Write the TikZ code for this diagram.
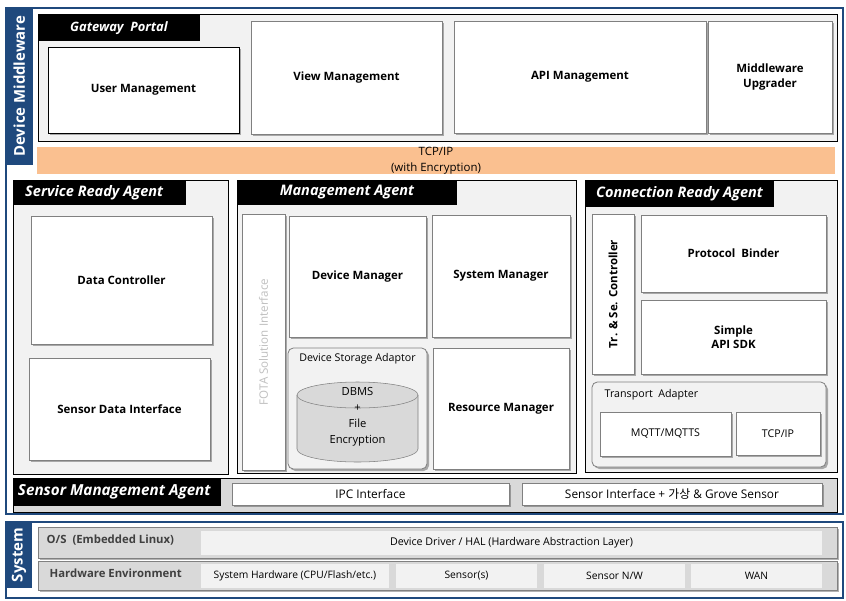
\documentclass[tikz,border=0pt]{standalone}
\usepackage{fontspec}
\setmainfont{Open Sans}
\newfontfamily\krfont{Noto Sans CJK KR}
\usetikzlibrary{shadows}
\definecolor{FrameBlue}{HTML}{1F497D}
\definecolor{PanelGray}{HTML}{F2F2F2}
\definecolor{BarGray}{HTML}{D9D9D9}
\definecolor{TcpPeach}{HTML}{FAC090}
\definecolor{LabelGray}{HTML}{404040}
\tikzset{
	frame/.style={draw=FrameBlue, line width=1.5pt},
	tab/.style={fill=FrameBlue},
	tabtext/.style={text=white, rotate=90, font=\fontsize{11.2}{13}\selectfont\bfseries},
	panel/.style={draw=black, fill=PanelGray, line width=0.6pt},
	tag/.style={fill=black},
	tagtext/.style={text=white, font=\fontsize{10.9}{12}\selectfont\bfseries\itshape},
	box/.style={draw=gray, fill=white, line width=0.6pt,
		drop shadow={shadow xshift=1.5pt, shadow yshift=-1.5pt, fill=black, opacity=.3}},
	roundbox/.style={box, fill=PanelGray, rounded corners=4pt},
	row/.style={draw=gray, fill=BarGray, line width=0.6pt,
		drop shadow={shadow xshift=1.5pt, shadow yshift=-1.5pt, fill=black, opacity=.3}},
	cell/.style={fill=PanelGray},
	boldtxt/.style={font=\fontsize{8.6}{10.6}\selectfont\bfseries, align=center},
	plaintxt/.style={text=black, font=\fontsize{8}{10.5}\selectfont, align=center},
	rowtxt/.style={font=\fontsize{8.5}{10}\selectfont\bfseries, text=LabelGray, anchor=west}
}

\begin{document}
\begin{tikzpicture}[x=0.75pt,y=-0.75pt]
	\useasboundingbox[fill=white] (0,0) rectangle (846,600);
	
	% device middleware frame
	\draw[frame] (5.5,7.5) rectangle (843,514);
	\fill[tab] (5.5,7.5) rectangle (33,165) node[pos=.5, tabtext] (mwtab) {Device Middleware};
	
	% gateway portal
	\draw[panel] (38,14) rectangle (837,141);
	\fill[tag] (38,15) rectangle (200,41) node[pos=.5, tagtext, font=\fontsize{9.7}{11}\selectfont\bfseries\itshape] (gwtag) {Gateway~ Portal};
	\draw[box, draw=black] (48,47) rectangle (239,133) node[pos=.5, boldtxt] (usermgmt) {User Management};
	\draw[box] (251,21) rectangle (442,134) node[pos=.5, boldtxt] (viewmgmt) {View Management};
	\draw[box] (454,21) rectangle (706,133) node[pos=.5, boldtxt] (apimgmt) {API Management};
	\draw[box] (708,21) rectangle (832,133) node[pos=.5, boldtxt] (upgrader) {Middleware\\Upgrader};
	
	\fill[TcpPeach] (37,147) rectangle (835,174) node[pos=.5, plaintxt, font=\fontsize{8.6}{12}\selectfont] (tcpbar) {TCP/IP\\(with Encryption)};
	
	% service ready agent
	\draw[panel] (13,180) rectangle (228,474);
	\fill[tag] (13,180) rectangle (186,205) node[pos=.5, xshift=-4pt, tagtext] (srvtag) {Service Ready Agent};
	\draw[box] (31,216) rectangle (212,344) node[pos=.5, boldtxt] (datactrl) {Data Controller};
	\draw[box] (29,358) rectangle (210,460) node[pos=.5, boldtxt] (sensordata) {Sensor Data Interface};
	
	% management agent
	\draw[panel] (237,180) rectangle (576,473);
	\fill[tag] (237,180) rectangle (457,205) node[pos=.5, tagtext] (mgmttag) {Management Agent};
	\draw[box] (242,214) rectangle (285,470) node[pos=.5, plaintxt, font=\fontsize{8.7}{10}\selectfont, rotate=90, text=gray!50] (fota) {FOTA Solution Interface};
	\draw[box] (289,216) rectangle (426,337) node[pos=.5, boldtxt] (devmgr) {Device Manager};
	\draw[box] (432,215) rectangle (570,337) node[pos=.5, boldtxt] (sysmgr) {System Manager};
	\draw[roundbox] (288,348) rectangle (427,469);
	\node[plaintxt] (storage) at (357.5,359) {Device Storage Adaptor};
	\draw[draw=gray, fill=BarGray] (297,395) -- (297,449) arc[start angle=180, end angle=0, x radius=60.5, y radius=13] -- (418,395);
	\draw[draw=gray, fill=BarGray] (357.5,395) ellipse [x radius=60.5, y radius=13];
	\node[plaintxt, font=\fontsize{8.4}{12}\selectfont] (dbms) at (357.5,417) {DBMS\\+\\File\\Encryption};
	\draw[box] (433,348) rectangle (569,469) node[pos=.5, boldtxt] (resmgr) {Resource Manager};
	
	% connection ready agent
	\draw[panel] (585,180) rectangle (837,472);
	\fill[tag] (585,180) rectangle (774,207) node[pos=.5, tagtext] (conntag) {Connection Ready Agent};
	\draw[box] (592,214) rectangle (634,374) node[pos=.5, boldtxt, rotate=90] (trctrl) {Tr. \& Se. Controller};
	\draw[box] (641,215) rectangle (826,292) node[pos=.5, boldtxt] (binder) {Protocol~ Binder};
	\draw[box] (641,300) rectangle (826,374) node[pos=.5, boldtxt] (apisdk) {Simple\\API SDK};
	\draw[roundbox] (592,382) rectangle (826,467);
	\node[plaintxt, anchor=west] (transport) at (600,395) {Transport~ Adapter};
	\draw[box] (600,412) rectangle (731,456) node[pos=.5, plaintxt] (mqtt) {MQTT/MQTTS};
	\draw[box] (736,412) rectangle (820,455) node[pos=.5, plaintxt] (conntcp) {TCP/IP};
	
	% sensor management agent
	\draw[panel, fill=BarGray] (13,478) rectangle (837,512);
	\fill[tag] (13,478) rectangle (221,506) node[pos=.5, xshift=-2pt, tagtext, font=\fontsize{11.4}{12}\selectfont\bfseries\itshape] (sensortag) {Sensor Management Agent};
	\draw[box] (232,483) rectangle (509,505) node[pos=.5, plaintxt, font=\fontsize{8.9}{10}\selectfont] (ipc) {IPC Interface};
	\draw[box] (522,483) rectangle (822,505) node[pos=.5, plaintxt, font=\fontsize{8.9}{10}\selectfont] (sensorif) {Sensor Interface + {\krfont 가상} \& Grove Sensor};
	
	% system
	\draw[frame] (6,522) rectangle (843,598);
	\fill[tab] (6,522) rectangle (32,588) node[pos=.5, tabtext] (systab) {System};
	\draw[row] (38,527) rectangle (837,558);
	\node[rowtxt] (oslabel) at (42,540) {O/S~ (Embedded Linux)};
	\fill[cell] (201,531) rectangle (822,555) node[pos=.5, plaintxt, font=\fontsize{8}{9}\selectfont] (hal) {Device Driver / HAL (Hardware Abstraction Layer)};
	\draw[row] (38,561) rectangle (837,590);
	\node[rowtxt] (hwlabel) at (45,573) {Hardware Environment};
	\foreach \xa/\xb/\txt/\nm in {201/389/{System Hardware (CPU/Flash/etc.)}/hwsys, 396/537/{Sensor(s)}/hwsensor, 544/685/{Sensor N/W}/hwnet, 691/822/WAN/hwwan}{
		\fill[cell] (\xa,564) rectangle (\xb,588) node[pos=.5, plaintxt, font=\fontsize{7.7}{9}\selectfont] (\nm) {\txt};
	}
	
\end{tikzpicture}
\end{document}
